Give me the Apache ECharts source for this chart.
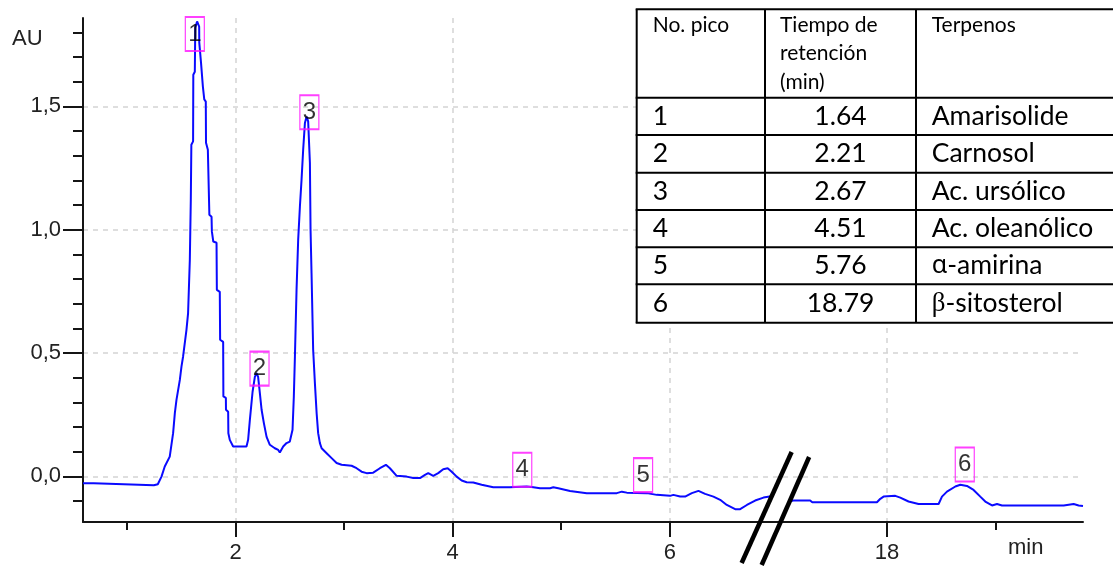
<!DOCTYPE html>
<html><head><meta charset="utf-8">
<script src="https://cdn.jsdelivr.net/npm/echarts@6/dist/echarts.min.js"></script>
<style>html,body{margin:0;padding:0;background:#fff}#c{width:1113px;height:566px}</style>
</head><body><div id="c"></div>
<script>
// ---------- data (time in min, absorbance in AU) ----------
const seg1Time = [0.595,0.694,0.712,1.247,1.284,1.302,1.318,1.348,1.394,1.425,
1.441,1.456,1.487,1.502,1.517,1.548,1.563,1.579,1.588,1.593,
1.609,1.611,1.625,1.629,1.646,1.665,1.666,1.680,1.682,1.696,
1.699,1.711,1.712,1.726,1.728,1.742,1.745,1.757,1.759,1.779,
1.782,1.794,1.795,1.825,1.828,1.855,1.858,1.886,1.888,1.911,
1.912,1.932,1.934,1.947,1.978,2.101,2.116,2.132,2.157,2.178,
2.194,2.208,2.224,2.240,2.261,2.286,2.316,2.362,2.393,2.408,
2.439,2.470,2.500,2.525,2.537,2.547,2.562,2.577,2.593,2.608,
2.623,2.639,2.654,2.669,2.685,2.691,2.700,2.715,2.731,2.747,
2.761,2.777,2.793,2.839,2.885,2.931,2.977,3.069,3.115,3.161,
3.207,3.268,3.330,3.385,3.422,3.484,3.576,3.637,3.699,3.745,
3.775,3.821,3.867,3.913,3.954,3.991,4.037,4.083,4.129,4.190,
4.267,4.374,4.528,4.682,4.743,4.805,4.897,4.927,4.973,5.081,
5.235,5.512,5.558,5.604,5.788,5.880,6.003,6.033,6.095,6.141,
6.203,6.264,6.325,6.402,6.464,6.525,6.602,6.648,6.710,6.786,
6.863,6.934];
const seg1AU = [-0.028,-0.028,-0.036,-0.036,-0.032,-0.026,-0.001,0.040,0.080,0.175,
0.256,0.310,0.391,0.445,0.486,0.594,0.662,0.878,1.121,1.344,
1.358,1.628,1.640,1.819,1.844,1.823,1.758,1.750,1.677,1.669,
1.581,1.575,1.528,1.519,1.352,1.344,1.324,1.316,1.060,1.052,
0.993,0.987,0.952,0.947,0.756,0.748,0.554,0.545,0.324,0.318,
0.270,0.262,0.175,0.148,0.121,0.121,0.148,0.229,0.343,0.403,
0.418,0.403,0.337,0.270,0.216,0.160,0.128,0.114,0.107,0.097,
0.121,0.135,0.141,0.189,0.324,0.486,0.756,0.959,1.094,1.202,
1.324,1.432,1.458,1.439,1.270,1.000,0.824,0.513,0.378,0.256,
0.175,0.135,0.114,0.094,0.074,0.054,0.047,0.043,0.033,0.019,
0.013,0.015,0.033,0.047,0.033,0.002,-0.001,-0.007,-0.007,0.006,
0.013,0.002,0.013,0.029,0.033,0.019,-0.001,-0.017,-0.024,-0.025,
-0.034,-0.044,-0.044,-0.041,-0.044,-0.048,-0.048,-0.044,-0.048,-0.059,
-0.068,-0.068,-0.062,-0.066,-0.068,-0.075,-0.079,-0.075,-0.082,-0.082,
-0.068,-0.059,-0.071,-0.082,-0.095,-0.116,-0.133,-0.133,-0.116,-0.098,
-0.086,-0.081];
const seg2Time = [17.100,17.137,17.293,17.312,17.508,17.908,17.939,17.969,18.077,18.123,
18.199,18.291,18.476,18.507,18.553,18.630,18.676,18.737,18.798,18.860,
18.906,18.968,19.014,19.060,19.628,19.643,19.720,19.766,19.806];
const seg2AU = [-0.102,-0.098,-0.098,-0.105,-0.105,-0.105,-0.091,-0.082,-0.079,-0.086,
-0.102,-0.112,-0.112,-0.082,-0.062,-0.041,-0.034,-0.039,-0.055,-0.082,
-0.102,-0.118,-0.112,-0.118,-0.118,-0.112,-0.112,-0.118,-0.120];

const peakNums = ['1','2','3','4','5','6'];
const peakLabelTime = [1.625, 2.221, 2.680, 4.641, 5.754, 18.717];
const peakLabelAU = [1.793, 0.437, 1.476, 0.027, 0.005, 0.048];

const xMajorTicks = [2, 4, 6, 18];
const xMajorLabels = ['2', '4', '6', '18'];
const xMinorTicks = [1, 3, 5, 19];
const yMajorTicks = [0, 0.5, 1.0, 1.5];
const yMajorLabels = ['0,0', '0,5', '1,0', '1,5'];
const yMinorTicks = [-0.1, 0.1, 0.2, 0.3, 0.4, 0.6, 0.7, 0.8, 0.9, 1.1, 1.2, 1.3, 1.4, 1.6, 1.7, 1.8];

const xRange = [0.595, 19.806];
const yRange = [-0.185, 1.858];
const breakAfter = 7;      // min: axis break starts
const breakGap = 10;       // min removed by the break

const tableHeader = ['No. pico', 'Tiempo de\nretención\n(min)', 'Terpenos'];
const tablePeak = ['1','2','3','4','5','6'];
const tableTime = ['1.64','2.21','2.67','4.51','5.76','18.79'];
const tableTerpene = ['Amarisolide','Carnosol','Ac. ursólico','Ac. oleanólico','{s|α}-amirina','{g|β}-sitosterol'];

// ---------- helpers ----------
const disp = t => (t > breakAfter ? t - breakGap : t);
const pairs = (ts, vs) => ts.map((t, i) => [disp(t), vs[i]]);

const FONT = 'Liberation Sans, Arial, sans-serif';
const AX = '#151515';
const xMin = disp(xRange[0]), xMax = disp(xRange[1]);

const chart = echarts.init(document.getElementById('c'));
const axisLineStyle = {color: AX, width: 2};
const gridLine = {show: true, lineStyle: {color: '#d4d4d4', type: [5, 5], width: 1.5}};

chart.setOption({
  animation: false,
  backgroundColor: '#fff',
  grid: {left: 83, right: 30, top: 18, bottom: 44},
  xAxis: [
    {type: 'value', min: xMin, max: xMax, position: 'bottom',
     axisLine: {show: true, onZero: false, lineStyle: axisLineStyle},
     axisTick: {show: true, customValues: xMajorTicks.map(disp), length: 15, lineStyle: axisLineStyle},
     axisLabel: {show: true, customValues: xMajorTicks.map(disp), margin: 20, fontSize: 22, fontFamily: FONT, color: '#222',
       formatter: v => { const i = xMajorTicks.findIndex(t => Math.abs(disp(t) - v) < 1e-6); return i >= 0 ? xMajorLabels[i] : ''; }},
     splitLine: gridLine},
    {type: 'value', min: xMin, max: xMax, position: 'bottom',
     axisLine: {show: false, onZero: false},
     axisTick: {show: true, customValues: xMinorTicks.map(disp), length: 8, lineStyle: axisLineStyle},
     axisLabel: {show: false}, splitLine: {show: false}}
  ],
  yAxis: [
    {type: 'value', min: yRange[0], max: yRange[1], position: 'left',
     axisLine: {show: true, onZero: false, lineStyle: axisLineStyle},
     axisTick: {show: true, customValues: yMajorTicks, length: 20, lineStyle: axisLineStyle},
     axisLabel: {show: true, customValues: yMajorTicks, margin: 22, fontSize: 22, fontFamily: FONT, color: '#222',
       formatter: v => { const i = yMajorTicks.findIndex(t => Math.abs(t - v) < 1e-6); return i >= 0 ? yMajorLabels[i] : ''; }},
     splitLine: gridLine},
    {type: 'value', min: yRange[0], max: yRange[1], position: 'left',
     axisLine: {show: false, onZero: false},
     axisTick: {show: true, customValues: yMinorTicks, length: 10, lineStyle: axisLineStyle},
     axisLabel: {show: false}, splitLine: {show: false}}
  ],
  series: [
    {type: 'line', data: pairs(seg1Time, seg1AU), showSymbol: false, symbol: 'none',
     lineStyle: {color: '#0a0aff', width: 2}, z: 3},
    {type: 'line', data: pairs(seg2Time, seg2AU), showSymbol: false, symbol: 'none',
     lineStyle: {color: '#0a0aff', width: 2}, z: 3},
    {type: 'scatter', data: pairs(peakLabelTime, peakLabelAU), symbol: 'rect', symbolSize: [19, 34], z: 4,
     itemStyle: {color: 'rgba(0,0,0,0)', borderColor: '#ff10ff', borderWidth: 1.6},
     label: {show: true, position: 'inside', fontSize: 24, fontFamily: FONT, color: '#000',
       formatter: p => peakNums[p.dataIndex]}}
  ]
});

// ---------- overlays: axis names, break marks, table ----------
const g = [];
g.push({type: 'text', x: 12, y: 39, z: 50, style: {text: 'AU', fontSize: 22, fontFamily: FONT, fill: '#222', verticalAlign: 'middle'}});
g.push({type: 'text', x: 1008, y: 548, z: 50, style: {text: 'min', fontSize: 22, fontFamily: FONT, fill: '#222', verticalAlign: 'middle'}});

const axisY = chart.convertToPixel({yAxisIndex: 0}, yRange[0]);
const bx1 = chart.convertToPixel({xAxisIndex: 0}, 6.832);
const bx2 = chart.convertToPixel({xAxisIndex: 0}, 7.021);
g.push({type: 'line', z: 60, shape: {x1: bx1 + 31.5, y1: axisY - 70, x2: bx1 - 18.5, y2: axisY + 41}, style: {stroke: '#000', lineWidth: 4.5}});
g.push({type: 'line', z: 60, shape: {x1: bx2 + 28.5, y1: axisY - 65, x2: bx2 - 19, y2: axisY + 43}, style: {stroke: '#000', lineWidth: 4.5}});

// table
const tL = 636.7, tR = 1115, colX = [636.7, 765, 916];
const rowY = [9.3, 97.7, 135, 172.7, 210, 247.3, 284.3, 322.7];
const TF = 'Lato, "Noto Sans", sans-serif';
g.push({type: 'rect', z: 90, shape: {x: tL, y: rowY[0], width: tR - tL, height: rowY[7] - rowY[0]}, style: {fill: '#fff'}});
rowY.forEach(y => g.push({type: 'line', z: 92, shape: {x1: tL - 1, y1: y, x2: tR, y2: y}, style: {stroke: '#000', lineWidth: 2}}));
colX.forEach(x => g.push({type: 'line', z: 92, shape: {x1: x, y1: rowY[0], x2: x, y2: rowY[7]}, style: {stroke: '#000', lineWidth: 2}}));
const hx = [652.7, 780, 931.7];
tableHeader.forEach((t, i) => g.push({type: 'text', z: 94, x: hx[i], y: 11,
  style: {text: t, fontSize: 21, lineHeight: 28.3, fontFamily: TF, fill: '#000', align: 'left', verticalAlign: 'top'}}));
for (let r = 0; r < tablePeak.length; r++) {
  const cy = (rowY[r + 1] + rowY[r + 2]) / 2;
  g.push({type: 'text', z: 94, x: 652.7, y: cy, style: {text: tablePeak[r], fontSize: 26.5, fontFamily: TF, fill: '#000', align: 'left', verticalAlign: 'middle'}});
  g.push({type: 'text', z: 94, x: (colX[1] + colX[2]) / 2, y: cy, style: {text: tableTime[r], fontSize: 26.5, fontFamily: TF, fill: '#000', align: 'center', verticalAlign: 'middle'}});
  g.push({type: 'text', z: 94, x: 931.7, y: cy, style: {text: tableTerpene[r], fontSize: 26.5, fontFamily: TF, fill: '#000', align: 'left', verticalAlign: 'middle',
    rich: {g: {fontFamily: 'Liberation Serif, serif', fontSize: 27, fill: '#000'}, s: {fontFamily: '"Noto Sans", sans-serif', fontSize: 25, fill: '#000'}}}});
}
chart.setOption({graphic: g});
</script>
</body></html>
